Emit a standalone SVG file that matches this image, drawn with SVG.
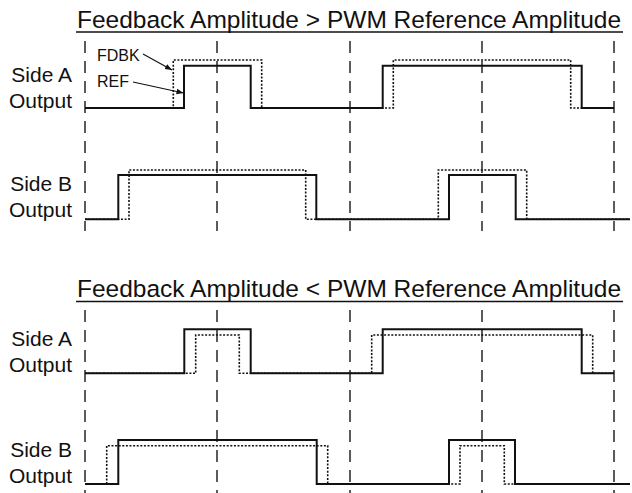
<svg xmlns="http://www.w3.org/2000/svg" width="632" height="493" viewBox="0 0 632 493">
<style>
.title{font-family:"Liberation Sans",Arial,sans-serif;font-size:24.5px;fill:#111}
.lbl{font-family:"Liberation Sans",Arial,sans-serif;font-size:21px;fill:#111;text-anchor:end}
.small{font-family:"Liberation Sans",Arial,sans-serif;font-size:16px;fill:#111}
.ul{stroke:#111;stroke-width:1.6}
.grid{stroke:#333;stroke-width:1.6;stroke-dasharray:12 8;fill:none}
.sig{stroke:#111;stroke-width:2;fill:none}
.ref{stroke:#111;stroke-width:1.6;stroke-dasharray:2 1.6;fill:none}
.arr{stroke:#111;stroke-width:1.2;fill:none;marker-end:url(#ah)}
</style>
<defs>
<marker id="ah" viewBox="0 0 10 10" refX="10" refY="5" markerWidth="7" markerHeight="7" markerUnits="userSpaceOnUse" orient="auto">
<path d="M0,1 L10,5 L0,9 z" fill="#111"/>
</marker>
</defs>
<rect width="632" height="493" fill="#fff"/>
<g id="grid-top">
<line class="grid" x1="85" y1="41" x2="85" y2="231"/>
<line class="grid" x1="217" y1="41" x2="217" y2="231"/>
<line class="grid" x1="350" y1="41" x2="350" y2="231"/>
<line class="grid" x1="482" y1="41" x2="482" y2="231"/>
<line class="grid" x1="614" y1="41" x2="614" y2="231"/>
</g>
<g id="grid-bottom">
<line class="grid" x1="85" y1="310" x2="85" y2="493"/>
<line class="grid" x1="217" y1="310" x2="217" y2="493"/>
<line class="grid" x1="350" y1="310" x2="350" y2="493"/>
<line class="grid" x1="482" y1="310" x2="482" y2="493"/>
<line class="grid" x1="614" y1="310" x2="614" y2="493"/>
</g>
<g id="title-top">
<text class="title" x="77" y="28">Feedback Amplitude &gt; PWM Reference Amplitude</text>
<line class="ul" x1="76" y1="32" x2="623" y2="32"/>
</g>
<g id="title-bottom">
<text class="title" x="77" y="297">Feedback Amplitude &lt; PWM Reference Amplitude</text>
<line class="ul" x1="76" y1="301.5" x2="623" y2="301.5"/>
</g>
<g id="top-side-a">
<text class="lbl" x="72" y="82">Side A</text>
<text class="lbl" x="72" y="107.5">Output</text>
<path class="ref" d="M85,108 H173.3 V60 H261.7 V108 H393.3 V60 H570.7 V108 H614"/>
<path class="sig" d="M85,108 H184 V65.7 H250.7 V108 H382.7 V65.7 H581.7 V108 H614"/>
</g>
<g id="top-side-b">
<text class="lbl" x="72" y="191">Side B</text>
<text class="lbl" x="72" y="217">Output</text>
<path class="ref" d="M85,219.3 H129 V170 H305.7 V219.3 H438.3 V170 H526.7 V219.3 H630"/>
<path class="sig" d="M85,219.3 H118.3 V175 H316.3 V219.3 H449 V175 H515.7 V219.3 H630"/>
</g>
<g id="bottom-side-a">
<text class="lbl" x="72" y="346">Side A</text>
<text class="lbl" x="72" y="372">Output</text>
<path class="ref" d="M85,373.3 H195.7 V335 H239.3 V373.3 H371.7 V335 H592.7 V373.3 H614"/>
<path class="sig" d="M85,373.3 H184.3 V329.3 H250.7 V373.3 H382.7 V329.3 H581.7 V373.3 H614"/>
</g>
<g id="bottom-side-b">
<text class="lbl" x="72" y="457">Side B</text>
<text class="lbl" x="72" y="483">Output</text>
<path class="ref" d="M85,484 H106.7 V445.7 H327.7 V484 H460 V445.7 H504.3 V484 H630"/>
<path class="sig" d="M85,484 H118.3 V440 H316.7 V484 H449 V440 H515 V484 H630"/>
</g>
<g id="legend-fdbk">
<text class="small" x="97" y="61">FDBK</text>
</g>
<g id="legend-ref">
<text class="small" x="97" y="87">REF</text>
</g>
<g id="connectors">
<line class="arr" x1="143" y1="54" x2="172" y2="70"/>
<line class="arr" x1="133" y1="82" x2="183.5" y2="93"/>
</g>
</svg>
